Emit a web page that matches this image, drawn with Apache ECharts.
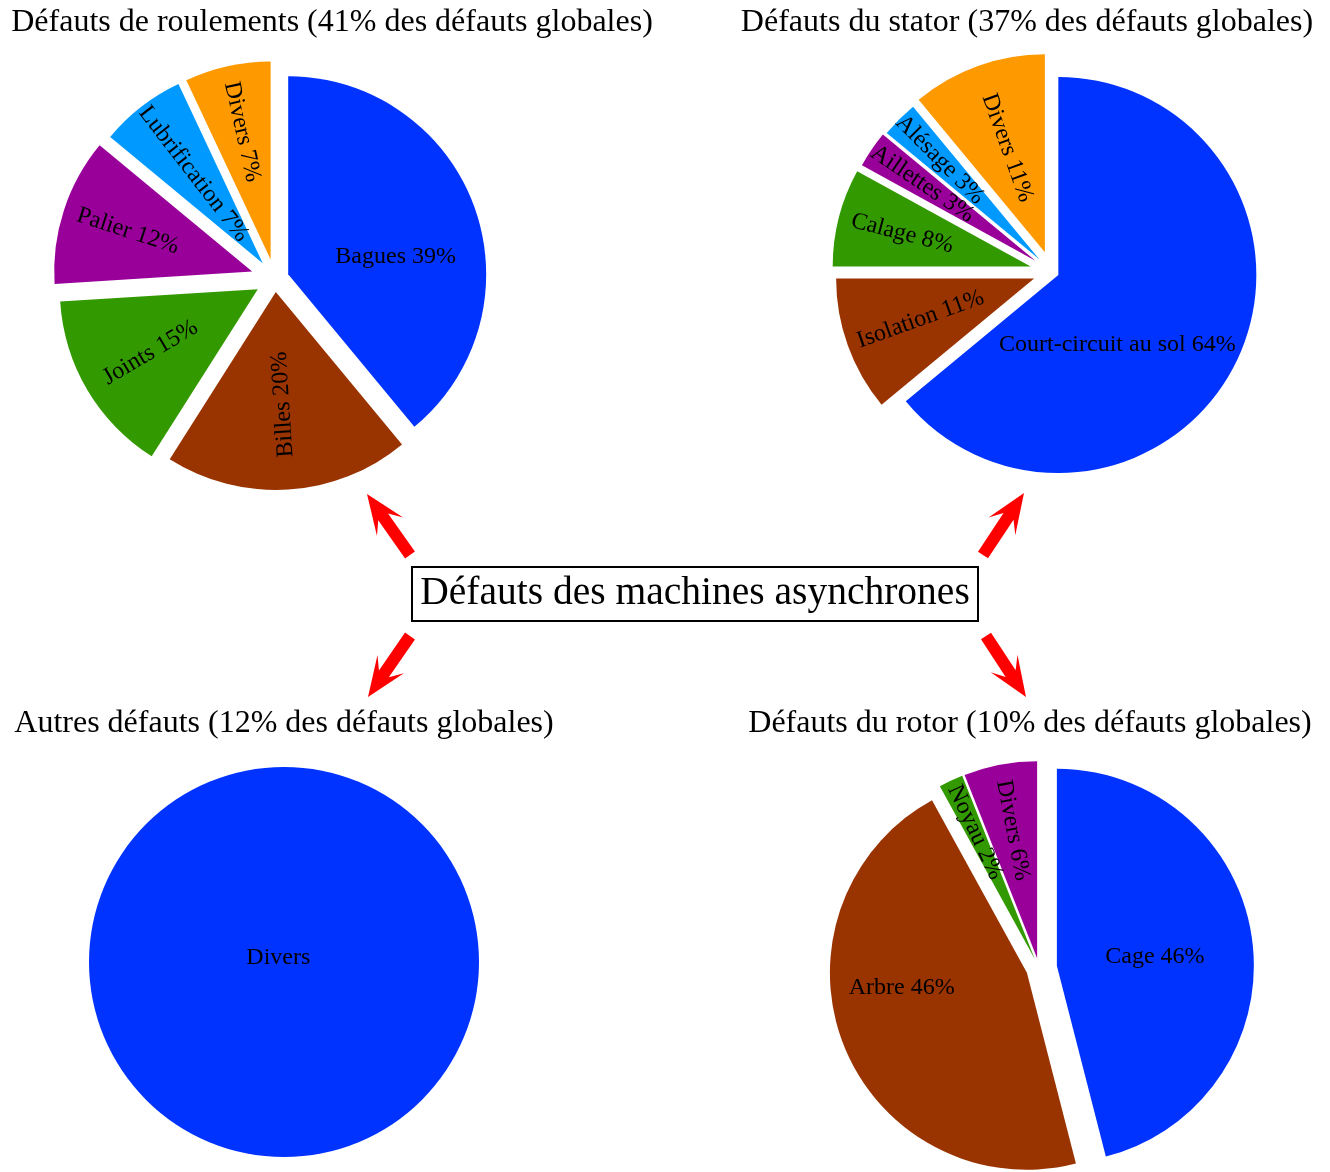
<!DOCTYPE html>
<html>
<head>
<meta charset="utf-8">
<script src="https://cdn.jsdelivr.net/npm/echarts@6/dist/echarts.min.js"></script>
<style>html,body{margin:0;padding:0;background:#fff}#c{width:1330px;height:1172px}</style>
</head>
<body>
<div id="c"></div>
<script>
// ---------------- data ----------------
const roulementsNames = ['Bagues', 'Billes', 'Joints', 'Palier', 'Lubrification', 'Divers'];
const roulementsValues = [39, 20, 15, 12, 7, 7];
const statorNames = ['Court-circuit au sol', 'Isolation', 'Calage', 'Aillettes', 'Alésage', 'Divers'];
const statorValues = [64, 11, 8, 3, 3, 11];
const rotorNames = ['Cage', 'Arbre', 'Noyau', 'Divers'];
const rotorValues = [46, 46, 2, 6];
const autresNames = ['Divers'];
const autresValues = [100];
const panelTitles = [
  'Défauts de roulements (41% des défauts globales)',
  'Défauts du stator (37% des défauts globales)',
  'Autres défauts (12% des défauts globales)',
  'Défauts du rotor (10% des défauts globales)'
];
const mainTitle = 'Défauts des machines asynchrones';

// ---------------- styles / layout ----------------
const FONT = '"Liberation Serif", "Times New Roman", serif';
const COLORS = ['#0033ff', '#993300', '#339900', '#990099', '#0099ff', '#ff9900'];
const LAYOUT = {
  roulements: { center: [275, 279], r: 198, offsets: [14, 13, 20, 24, 20, 20],
    frac: [0.55, 0.57, 0.63, 0.66, 0.57, 0.66], delta: [10.6, 0, 0, 0, 0, 0],
    rot: ['h', 'rf', 'r', 'r', 'r', 'r'] },
  stator: { center: [1052, 272], r: 198, offsets: [7, 19, 22, 20, 18, 21],
    frac: [0.46, 0.61, 0.67, 0.69, 0.71, 0.56], delta: [24.4, 0, 0, 0, 0, 0],
    rot: ['h', 'r', 'r', 'r', 'r', 'r'] },
  rotor: { center: [1039, 968], r: 197, offsets: [18, 13, 10, 10],
    frac: [0.5, 0.64, 0.71, 0.66], delta: [2, 14.6, 0, 0],
    rot: ['h', 'h', 'r', 'r'] },
  autres: { center: [284, 962], r: 195, offsets: [0], frac: [0.035], delta: [124], rot: ['h'] }
};
const TITLE_POS = [[332, 7], [1027, 7], [284, 708], [1030, 708]];
const ARROWS = [ // [tailX, tailY, tipX, tipY]
  [410, 555, 367, 494],
  [983, 555, 1024, 493],
  [410, 636, 368, 697],
  [986, 636, 1026, 697]
];
const ARROW = { headLen: 40, headW: 16, notch: 28, shaftW: 6 };

function pieSeries(names, values, lay, withPct) {
  const total = values.reduce((a, b) => a + b, 0);
  let cum = 0;
  const out = [];
  values.forEach((v, k) => {
    const mid = (cum + v / 2) / total * 360;
    cum += v;
    const m = mid * Math.PI / 180;
    const cx = lay.center[0] + lay.offsets[k] * Math.sin(m);
    const cy = lay.center[1] - lay.offsets[k] * Math.cos(m);
    const a = (mid + lay.delta[k]) * Math.PI / 180;
    const lx = cx + lay.frac[k] * lay.r * Math.sin(a);
    const ly = cy - lay.frac[k] * lay.r * Math.cos(a);
    const phi = mid - 90;
    const c = Math.cos(phi * Math.PI / 180);
    let rot = 0;
    if (lay.rot[k] === 'r') rot = c < 0 ? 180 - phi : -phi;
    else if (lay.rot[k] === 'rf') rot = c < 0 ? -phi : 180 - phi;
    out.push({
      type: 'pie', silent: true, animation: false,
      startAngle: 90, clockwise: true, avoidLabelOverlap: false,
      center: [cx, cy], radius: lay.r,
      emphasis: { disabled: true },
      labelLine: { show: false },
      label: {
        show: true, position: 'inside', color: '#000',
        fontFamily: FONT, fontSize: 24,
        formatter: withPct ? '{b} {c}%' : '{b}'
      },
      labelLayout: () => ({ x: lx, y: ly, rotate: rot, align: 'center', verticalAlign: 'middle' }),
      data: names.map((n, i) => ({
        name: n, value: values[i],
        itemStyle: { color: i === k ? COLORS[i] : 'rgba(0,0,0,0)', borderWidth: 0 },
        label: { show: i === k }
      }))
    });
  });
  return out;
}

function arrowPoints(a) {
  const tail = [a[0], a[1]], tip = [a[2], a[3]];
  const dx = tip[0] - tail[0], dy = tip[1] - tail[1];
  const L = Math.hypot(dx, dy), ux = dx / L, uy = dy / L, nx = -uy, ny = ux;
  const P = (b, w) => [tip[0] - ux * b + nx * w, tip[1] - uy * b + ny * w];
  return [P(0, 0), P(ARROW.headLen, ARROW.headW), P(ARROW.notch, ARROW.shaftW),
    P(L, ARROW.shaftW), P(L, -ARROW.shaftW), P(ARROW.notch, -ARROW.shaftW),
    P(ARROW.headLen, -ARROW.headW)];
}

const chart = echarts.init(document.getElementById('c'), null, { renderer: 'canvas' });
const titleStyle = { fontFamily: FONT, fontSize: 32, fontWeight: 'normal', color: '#000' };
chart.setOption({
  backgroundColor: '#fff',
  animation: false,
  title: [
    ...panelTitles.map((t, i) => ({
      text: t, left: TITLE_POS[i][0], top: TITLE_POS[i][1], textAlign: 'center',
      padding: 0, textStyle: titleStyle
    })),
    {
      text: mainTitle, left: 687, top: 567, textAlign: 'center', padding: [7, 8],
      borderColor: '#000', borderWidth: 2,
      textStyle: { fontFamily: FONT, fontSize: 39.5, fontWeight: 'normal', color: '#000' }
    }
  ],
  graphic: ARROWS.map(a => ({
    type: 'polygon', silent: true, shape: { points: arrowPoints(a) }, style: { fill: '#ff0000' }
  })),
  series: [
    ...pieSeries(roulementsNames, roulementsValues, LAYOUT.roulements, true),
    ...pieSeries(statorNames, statorValues, LAYOUT.stator, true),
    ...pieSeries(autresNames, autresValues, LAYOUT.autres, false),
    ...pieSeries(rotorNames, rotorValues, LAYOUT.rotor, true)
  ]
});
</script>
</body>
</html>
